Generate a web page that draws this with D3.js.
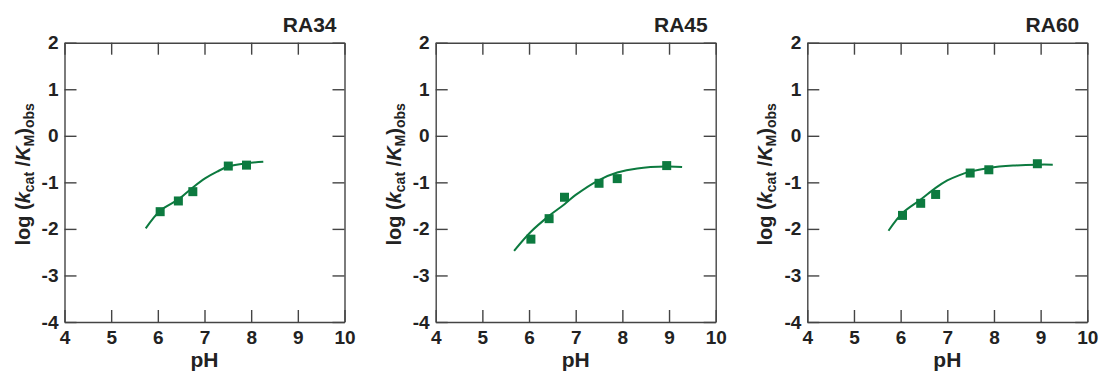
<!DOCTYPE html>
<html>
<head>
<meta charset="utf-8">
<title>pH profiles</title>
<script src="https://d3js.org/d3.v7.min.js"></script>
<style>
  body { margin: 0; background: #fff; }
  svg { display: block; font-family: "Liberation Sans", Arial, sans-serif; }
  .tick text { font-size: 19px; font-weight: bold; fill: #222; }
  .tick line, .domain { stroke: #444; stroke-width: 1.4px; }
</style>
</head>
<body>
<svg id="chart" width="1103" height="373"></svg>
<script>
  // panel names
  let panels = ['RA34', 'RA45', 'RA60'];

  // measured points, pH and log(kcat/KM)obs
  let ra34X = [6.05, 6.44, 6.75, 7.51, 7.90];
  let ra34Y = [-1.63, -1.40, -1.20, -0.65, -0.63];
  let ra45X = [6.04, 6.43, 6.76, 7.50, 7.89, 8.95];
  let ra45Y = [-2.22, -1.78, -1.32, -1.02, -0.92, -0.64];
  let ra60X = [6.04, 6.43, 6.75, 7.49, 7.89, 8.93];
  let ra60Y = [-1.71, -1.45, -1.26, -0.80, -0.73, -0.60];

  // fitted curves
  let fit34X = [5.74, 6.05, 6.45, 6.75, 7.02, 7.27, 7.51, 7.90, 8.26];
  let fit34Y = [-1.99, -1.61, -1.36, -1.11, -0.91, -0.77, -0.66, -0.59, -0.56];
  let fit45X = [5.68, 6.04, 6.43, 6.76, 7.00, 7.50, 7.89, 8.32, 8.95, 9.28];
  let fit45Y = [-2.47, -2.06, -1.72, -1.47, -1.27, -0.95, -0.79, -0.70, -0.66, -0.67];
  let fit60X = [5.74, 6.04, 6.43, 6.75, 7.00, 7.25, 7.49, 7.89, 8.41, 8.93, 9.26];
  let fit60Y = [-2.04, -1.66, -1.37, -1.12, -0.96, -0.85, -0.77, -0.69, -0.64, -0.62, -0.62];

  // axis ticks
  let xTicks = [4, 5, 6, 7, 8, 9, 10];
  let yTicks = [2, 1, 0, -1, -2, -3, -4];

  let pointsX = [ra34X, ra45X, ra60X];
  let pointsY = [ra34Y, ra45Y, ra60Y];
  let fitX = [fit34X, fit45X, fit60X];
  let fitY = [fit34Y, fit45Y, fit60Y];

  let green = '#0c7a3f';
  let lefts = [64.5, 435.7, 807.3];
  let plotTop = 42.7;
  let plotWidth = 280;
  let plotHeight = 279.3;

  let svg = d3.select('#chart');

  let x = d3.scaleLinear().domain([4, 10]).range([0, plotWidth]);
  let y = d3.scaleLinear().domain([-4, 2]).range([plotHeight, 0]);

  // plain integers with an ascii hyphen, like the original
  let fmt = d => String(d);

  panels.forEach(function(name, i) {
    let plot = svg.append('g')
      .attr('transform', translate(lefts[i], plotTop));

    // inward ticks on all four sides
    plot.append('g')
      .attr('transform', translate(0, plotHeight))
      .call(d3.axisBottom(x).tickValues(xTicks).tickFormat(fmt).tickSizeInner(-12).tickSizeOuter(0).tickPadding(9));
    plot.append('g')
      .call(d3.axisTop(x).tickValues(xTicks).tickSizeInner(-12).tickSizeOuter(0).tickFormat(''));
    plot.append('g')
      .call(d3.axisLeft(y).tickValues(yTicks).tickFormat(fmt).tickSizeInner(-12).tickSizeOuter(0).tickPadding(6));
    plot.append('g')
      .attr('transform', translate(plotWidth, 0))
      .call(d3.axisRight(y).tickValues(yTicks).tickSizeInner(-12).tickSizeOuter(0).tickFormat(''));

    // fit line
    let fit = fitX[i].map((v, j) => [v, fitY[i][j]]);
    plot.append('path')
      .datum(fit)
      .attr('fill', 'none')
      .attr('stroke', green)
      .attr('stroke-width', 2)
      .attr('d', d3.line().x(d => x(d[0])).y(d => y(d[1])).curve(d3.curveCatmullRom.alpha(0.5)));

    // data squares
    let pts = pointsX[i].map((v, j) => [v, pointsY[i][j]]);
    let size = 9;
    plot.selectAll('rect.pt')
      .data(pts)
      .enter().append('rect')
      .attr('class', 'pt')
      .attr('x', d => x(d[0]) - size / 2)
      .attr('y', d => y(d[1]) - size / 2)
      .attr('width', size)
      .attr('height', size)
      .attr('fill', green);

    // panel title
    plot.append('text')
      .attr('x', plotWidth - 8)
      .attr('y', -11)
      .attr('text-anchor', 'end')
      .style('font-size', '21px')
      .style('font-weight', 'bold')
      .style('fill', '#222')
      .text(name);

    // x label
    plot.append('text')
      .attr('x', plotWidth / 2)
      .attr('y', 324.5)
      .attr('text-anchor', 'middle')
      .style('font-size', '21px')
      .style('font-weight', 'bold')
      .style('fill', '#222')
      .text('pH');

    // y label with subscripts
    let yl = plot.append('text')
      .attr('transform', 'translate(-35,' + (plotHeight / 2 - 8) + ') rotate(-90)')
      .attr('text-anchor', 'middle')
      .style('font-size', '20px')
      .style('font-weight', 'bold')
      .style('fill', '#222');
    yl.append('tspan').text('log (');
    yl.append('tspan').style('font-style', 'italic').text('k');
    yl.append('tspan').attr('dy', 4).style('font-size', '14px').text('cat');
    yl.append('tspan').attr('dy', -4).text(' /');
    yl.append('tspan').style('font-style', 'italic').text('K');
    yl.append('tspan').attr('dy', 4).style('font-size', '14px').text('M');
    yl.append('tspan').attr('dy', -4).text(')');
    yl.append('tspan').attr('dy', 4).style('font-size', '14px').text('obs');
  });

  // helper method to make translating easier
  function translate(x, y) {
    return 'translate(' + x + ',' + y + ')';
  }
</script>
</body>
</html>
